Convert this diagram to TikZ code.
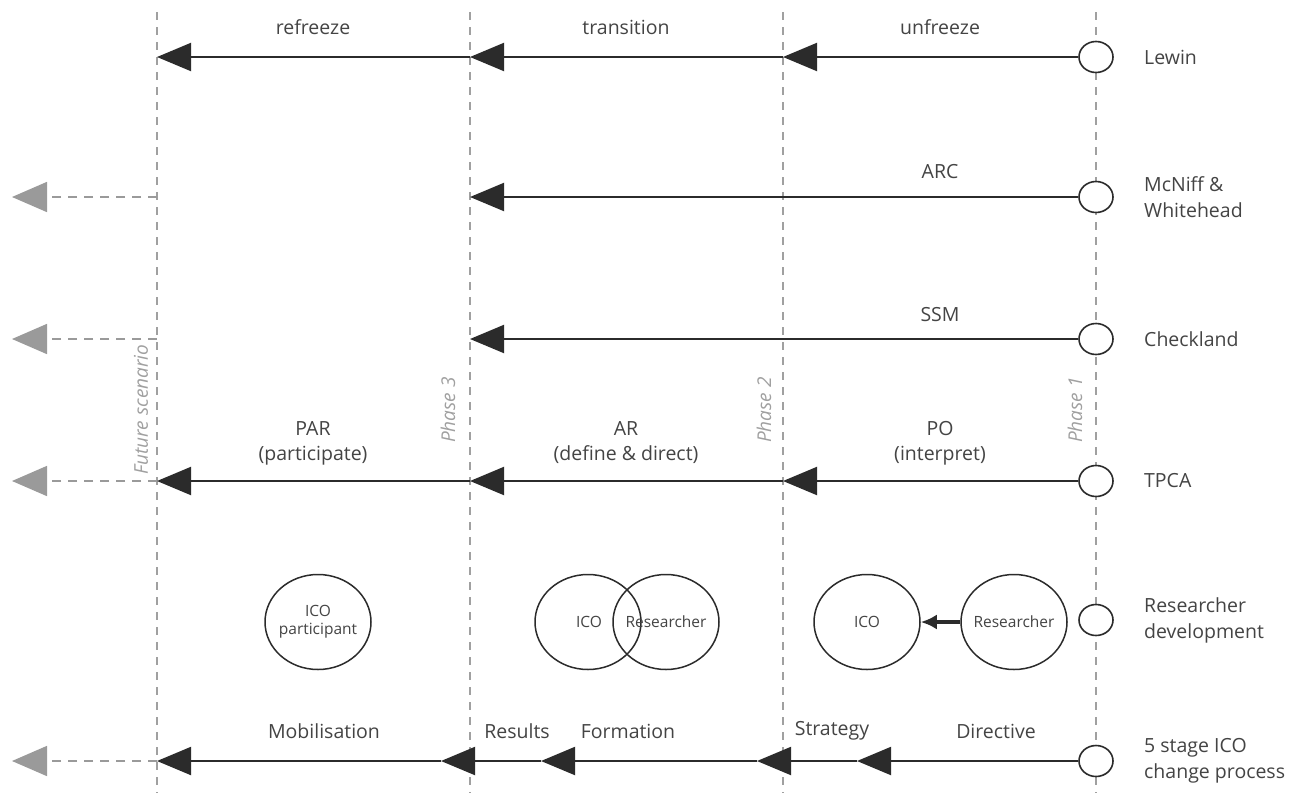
\documentclass[tikz,border=0pt]{standalone}
\usepackage{fontspec}
\setmainfont{Open Sans}
\usetikzlibrary{arrows.meta,shapes.geometric}
\definecolor{ink}{HTML}{2B2B2B}
\definecolor{txt}{HTML}{444444}
\definecolor{phase}{HTML}{A0A0A0}
\definecolor{ghost}{HTML}{9A9A9A}
\begin{document}
\begin{tikzpicture}[x=1pt,y=-1pt,
  phaseline/.style={draw=phase, line width=1.2pt, dash pattern=on 8pt off 7pt},
  flow/.style={draw=ink, line width=2pt, -{Triangle[length=34pt,width=28pt,fill=ink]}},
  future/.style={draw=ghost, line width=1.5pt, dash pattern=on 9pt off 7pt, -{Triangle[length=35pt,width=30pt,fill=ghost]}},
  startc/.style={ellipse, draw=ink, line width=1.6pt, minimum width=34pt, minimum height=31pt, inner sep=0pt, fill=white},
  role/.style={ellipse, draw=ink, line width=1.5pt, minimum width=106pt, minimum height=95pt, inner sep=0pt},
  roletext/.style={text=txt, align=center, inner sep=0pt, font=\fontsize{15.5}{18}\selectfont},
  lbl/.style={text=txt, font=\fontsize{19.5}{25}\selectfont, align=center, inner sep=0pt},
  rlbl/.style={text=txt, font=\fontsize{19.5}{26}\selectfont, align=left, anchor=west, inner sep=0pt},
  phl/.style={text=phase, font=\itshape\fontsize{19}{21}\selectfont, rotate=90, anchor=west, inner sep=0pt}
]
\useasboundingbox (0,0) rectangle (1298,793);
\fill[white] (0,0) rectangle (1298,793);

% phase lines
\foreach \x/\n in {157/f,470/p3,783/p2,1096/p1}{
  \coordinate (top\n) at (\x,12);
  \coordinate (bot\n) at (\x,793);
  \draw[phaseline] (top\n) -- (bot\n);
}
\node[phl] (lf) at (141,475) {Future scenario};
\node[phl] (l3) at (448,443) {Phase 3};
\node[phl] (l2) at (764,443) {Phase 2};
\node[phl] (l1) at (1075,443) {Phase 1};

% Lewin
\node[startc] (c1) at (1096,57) {};
\coordinate (a1) at (783,57); \coordinate (b1) at (470,57); \coordinate (d1) at (157,57);
\draw[flow] (c1.west) -- (a1);
\draw[flow] (a1) -- (b1);
\draw[flow] (b1) -- (d1);
\node[lbl] (t11) at (313,27) {refreeze};
\node[lbl] (t12) at (626,27) {transition};
\node[lbl] (t13) at (940,27) {unfreeze};
\node[rlbl] (n1) at (1144,57) {Lewin};

% McNiff & Whitehead
\node[startc] (c2) at (1096,197) {};
\coordinate (b2) at (470,197);
\coordinate (f2) at (157,197); \coordinate (g2) at (12,197);
\draw[flow] (c2.west) -- (b2);
\draw[future] (f2) -- (g2);
\node[lbl] (t2) at (940,172) {ARC};
\node[rlbl] (n2) at (1144,197) {McNiff \&\\Whitehead};

% Checkland
\node[startc] (c3) at (1096,339) {};
\coordinate (b3) at (470,339);
\coordinate (f3) at (157,339); \coordinate (g3) at (12,339);
\draw[flow] (c3.west) -- (b3);
\draw[future] (f3) -- (g3);
\node[lbl] (t3) at (940,315) {SSM};
\node[rlbl] (n3) at (1144,339) {Checkland};

% TPCA
\node[startc] (c4) at (1096,481) {};
\coordinate (a4) at (783,481); \coordinate (b4) at (470,481); \coordinate (d4) at (157,481);
\coordinate (g4) at (12,481);
\draw[flow] (c4.west) -- (a4);
\draw[flow] (a4) -- (b4);
\draw[flow] (b4) -- (d4);
\draw[future] (d4) -- (g4);
\node[lbl] (t41) at (313,443) {PAR\\(participate)};
\node[lbl] (t42) at (626,443) {AR\\(define \& direct)};
\node[lbl] (t43) at (940,443) {PO\\(interpret)};
\node[rlbl] (n4) at (1144,481) {TPCA};

% Researcher development
\node[startc] (c5) at (1096,620) {};
\node[role] (r1) at (318,622) {};
\node[role] (r2) at (588,622) {};
\node[role] (r3) at (666,622) {};
\node[role] (r4) at (867,622) {};
\node[role] (r5) at (1014,622) {};
\node[roletext] (r1t) at (r1.center) {ICO\\participant};
\node[roletext] (r2t) at (589,622) {ICO};
\node[roletext] (r3t) at (r3.center) {Researcher};
\node[roletext] (r4t) at (r4.center) {ICO};
\node[roletext] (r5t) at (r5.center) {Researcher};
\draw[draw=ink, line width=4.5pt, -{Latex[length=16pt,width=15pt]}] (r5.west) -- (r4.east);
\node[rlbl] (n5) at (1144,620) {Researcher\\development};

% 5 stage ICO change process
\node[startc] (c6) at (1096,761) {};
\coordinate (s1) at (857,761); \coordinate (s2) at (757,761);
\coordinate (s3) at (541,761); \coordinate (s4) at (441,761);
\coordinate (s5) at (157,761); \coordinate (g6) at (12,761);
\draw[flow] (c6.west) -- (s1);
\draw[flow] (s1) -- (s2);
\draw[flow] (s2) -- (s3);
\draw[flow] (s3) -- (s4);
\draw[flow] (s4) -- (s5);
\draw[future] (s5) -- (g6);
\node[lbl] (t61) at (996,731) {Directive};
\node[lbl] (t62) at (832,731) {Strategy};
\node[lbl] (t63) at (628,731) {Formation};
\node[lbl] (t64) at (517,731) {Results};
\node[lbl] (t65) at (324,731) {Mobilisation};
\node[rlbl] (n6) at (1144,761) {5 stage ICO\\change process};
\end{tikzpicture}
\end{document}
